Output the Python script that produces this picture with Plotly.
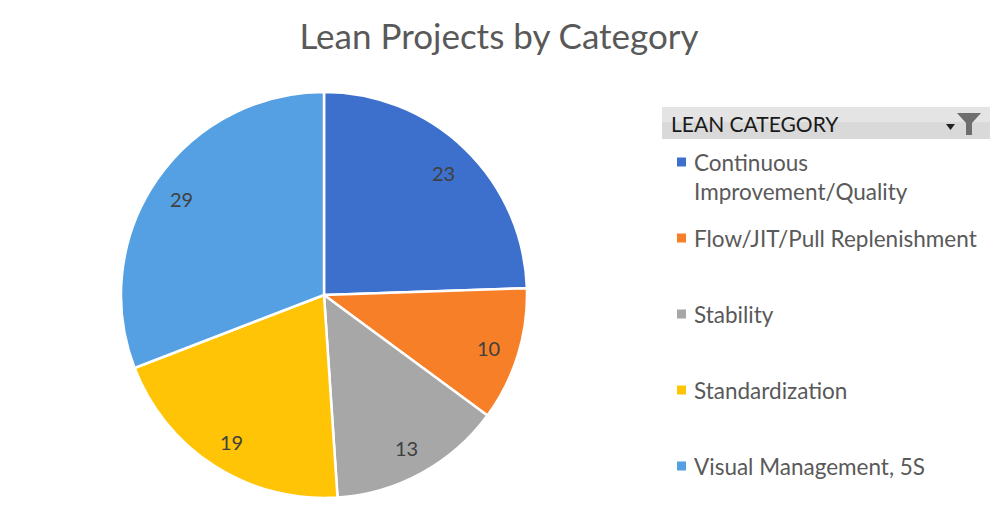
import math
import plotly.graph_objects as go

categories = ["Continuous Improvement/Quality", "Flow/JIT/Pull Replenishment",
              "Stability", "Standardization", "Visual Management, 5S"]
legend_labels = ["Continuous<br>Improvement/Quality", "Flow/JIT/Pull Replenishment",
                 "Stability", "Standardization", "Visual Management, 5S"]
values = [23, 10, 13, 19, 29]
colors = ["#3D6FCC", "#F77F27", "#A7A7A7", "#FFC405", "#55A0E2"]

W, H = 999, 506
OFF = 8  # page body margin


def px(x):
    return (x - OFF) / W


def py(y):
    return 1 - (y - OFF) / H


cx, cy, r = 324, 295, 203

fig = go.Figure()
fig.add_trace(go.Pie(
    labels=categories, values=values, sort=False, direction="clockwise",
    rotation=0,
    marker=dict(colors=colors, line=dict(color="white", width=2.5)),
    textinfo="none",
    domain=dict(x=[px(cx - r), px(cx + r)], y=[py(cy + r), py(cy - r)]),
    showlegend=False, hoverinfo="label+value+percent",
))

shapes = []
annotations = []

# slice value labels, placed along each slice bisector
total = sum(values)
cum = 0
for v in values:
    mid = (cum + v / 2) / total * 2 * math.pi
    cum += v
    lx = cx + 0.85 * r * math.sin(mid)
    ly = cy - 0.85 * r * math.cos(mid) + 2
    annotations.append(dict(text=str(v), x=px(lx), y=py(ly), xref="paper", yref="paper",
                            xanchor="center", yanchor="middle", showarrow=False,
                            font=dict(family="Lato", size=20, color="#404040")))

# legend header
shapes.append(dict(type="rect", xref="paper", yref="paper", x0=px(662), x1=px(990),
                   y0=py(139), y1=py(107), fillcolor="#D9D9D9", line=dict(width=0), layer="below"))
shapes.append(dict(type="rect", xref="paper", yref="paper", x0=px(662), x1=px(990),
                   y0=py(122), y1=py(107), fillcolor="#E4E4E4", line=dict(width=0), layer="below"))
annotations.append(dict(text="LEAN CATEGORY", x=px(669), y=py(123), xref="paper", yref="paper",
                        xanchor="left", yanchor="middle", showarrow=False,
                        font=dict(family="Lato", size=21, color="#1A1A1A")))
# filter icon
fx = 965
shapes.append(dict(type="path", xref="paper", yref="paper",
                   path=" ".join([
                       f"M {px(fx-8)},{py(113)}", f"L {px(fx+16)},{py(113)}",
                       f"L {px(fx+7)},{py(123)}", f"L {px(fx+7)},{py(135)}",
                       f"L {px(fx+1)},{py(135)}", f"L {px(fx+1)},{py(123)}", "Z"]),
                   fillcolor="#6E6E6E", line=dict(width=0)))
shapes.append(dict(type="path", xref="paper", yref="paper",
                   path=f"M {px(fx-19)},{py(124)} L {px(fx-10)},{py(124)} L {px(fx-14.5)},{py(130)} Z",
                   fillcolor="#222222", line=dict(width=0)))

# legend items
first_y = 162
step = 76
for i, (lab, col) in enumerate(zip(legend_labels, colors)):
    y = first_y + i * step
    shapes.append(dict(type="rect", xref="paper", yref="paper", x0=px(677), x1=px(686),
                       y0=py(y + 4.5), y1=py(y - 4.5), fillcolor=col, line=dict(width=0)))
    annotations.append(dict(text=lab, x=px(692), y=py(y - 15), xref="paper", yref="paper",
                            xanchor="left", yanchor="top", align="left", showarrow=False,
                            font=dict(family="Lato", size=22.5, color="#595959")))

fig.update_layout(
    width=W, height=H,
    margin=dict(l=0, r=0, t=0, b=0),
    paper_bgcolor="white", plot_bgcolor="white",
    title=dict(text="Lean Projects by Category", x=px(499), xanchor="center",
               y=py(37), yanchor="middle",
               font=dict(family="Lato", size=35, color="#595959")),
    shapes=shapes, annotations=annotations,
)

fig.write_html("out.html")
